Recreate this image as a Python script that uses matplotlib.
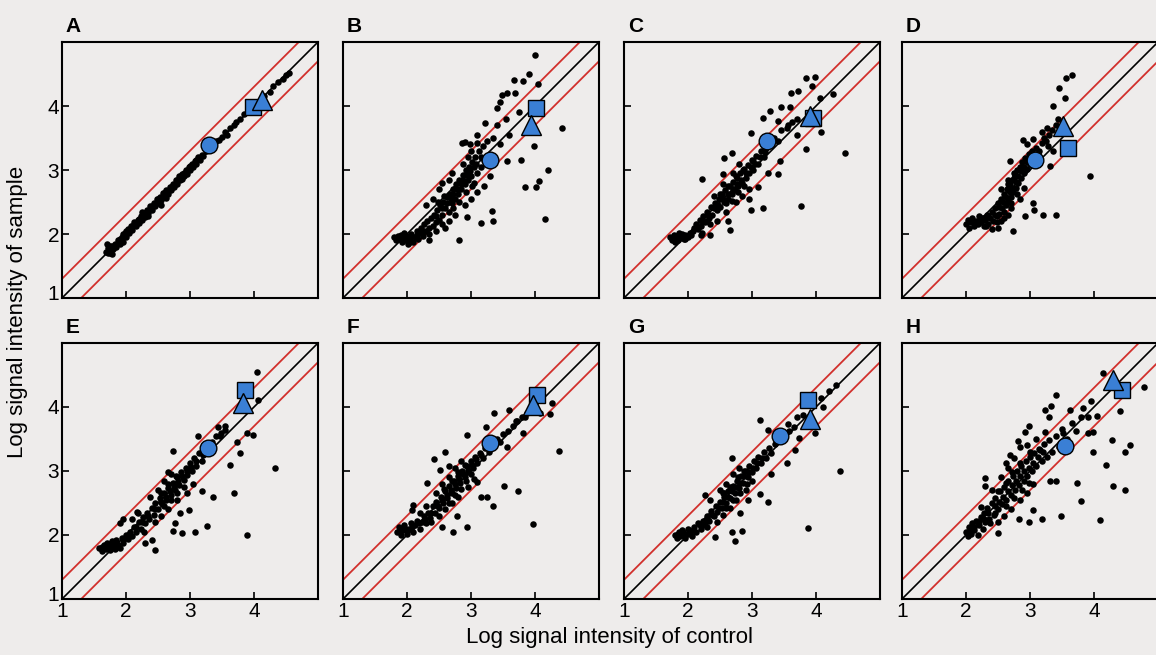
import matplotlib.pyplot as plt
import matplotlib.transforms as mtrans
import numpy as np

# values, panel by panel (log control, log sample)
pts_A = [(1.68,1.72),(1.72,1.78),(1.75,1.70),(1.78,1.82),(1.80,1.76),(1.83,1.85),(1.85,1.79),(1.88,1.90),(1.90,1.84),(1.93,1.95),(1.95,1.88),(1.98,2.02),(2.00,1.96),(2.03,2.08),(2.05,2.01),(2.08,2.12),(2.10,2.06),(2.13,2.18),(2.15,2.12),(2.18,2.22),(2.20,2.17),(2.23,2.28),(2.25,2.22),(2.28,2.33),(2.30,2.27),(2.33,2.38),(2.35,2.33),(2.38,2.44),(2.40,2.38),(2.43,2.48),(2.45,2.43),(2.48,2.55),(2.50,2.48),(2.53,2.58),(2.55,2.53),(2.58,2.64),(2.60,2.58),(2.63,2.68),(2.65,2.63),(2.68,2.74),(2.70,2.68),(2.73,2.78),(2.75,2.74),(2.78,2.84),(2.80,2.78),(2.83,2.90),(2.85,2.84),(2.88,2.94),(2.90,2.90),(2.93,3.00),(2.95,2.94),(2.98,3.04),(3.00,3.00),(3.03,3.10),(3.05,3.05),(3.08,3.14),(3.10,3.10),(3.13,3.20),(3.15,3.15),(3.18,3.24),(3.20,3.22),(3.25,3.30),(3.35,3.37),(3.40,3.45),(3.45,3.47),(3.50,3.52),(3.55,3.60),(3.58,3.55),(3.63,3.66),(3.68,3.70),(3.72,3.75),(3.78,3.80),(3.85,3.88),(4.15,4.15),(4.25,4.22),(4.30,4.32),(4.38,4.38),(4.45,4.42),(4.50,4.48),(4.55,4.52),(1.70,1.85),(1.78,1.68),(2.25,2.35),(2.55,2.45),
         (1.75,1.82),(1.82,1.80),(1.90,1.92),(2.00,2.04),(2.10,2.12),(2.20,2.24),(2.30,2.33),(2.40,2.44),(2.50,2.54),(2.60,2.64),(2.70,2.74),(2.80,2.84),(2.90,2.95),(3.00,3.06),(3.10,3.16),(2.35,2.28),(2.62,2.56),(2.88,2.86),(1.72,1.70),(1.95,2.00)]

pts_B = [(1.80,1.95),(1.83,1.90),(1.86,1.97),(1.88,1.92),(1.90,1.98),(1.92,1.88),(1.95,1.95),(1.97,1.90),(2.00,1.97),(2.02,1.85),(2.05,1.93),(2.07,2.00),(2.10,1.88),(2.12,1.96),(2.15,2.05),(2.17,1.92),(2.20,2.02),(2.22,2.10),(2.25,1.97),(2.27,2.15),(2.30,2.05),(2.32,2.20),(2.35,2.00),(2.37,2.25),(2.40,2.12),(2.42,2.30),(2.45,2.18),(2.47,2.38),(2.50,2.22),(2.52,2.45),(2.55,2.30),(2.57,2.50),(2.60,2.40),(2.62,2.58),(2.65,2.35),(2.67,2.62),(2.70,2.48),(2.72,2.70),(2.75,2.55),(2.77,2.78),(2.80,2.62),(2.82,2.85),(2.85,2.70),(2.87,2.92),(2.90,2.78),(2.92,3.00),(2.95,2.85),(2.97,3.05),(3.00,2.90),(3.02,3.12),(3.05,2.80),(3.07,3.20),(3.10,2.95),(3.12,3.30),(3.15,3.05),(3.18,3.38),(3.20,3.15),(3.25,3.45),
         (2.35,1.90),(2.45,2.05),(2.60,2.10),(2.75,2.30),(2.81,1.91),(2.94,2.26),(2.90,2.45),(3.00,2.55),(3.10,2.65),(3.15,2.17),(3.33,2.36),(3.34,2.20),(3.20,2.75),(3.30,2.90),(3.56,3.14),(3.78,3.16),(3.84,2.74),(4.02,2.73),(4.07,2.83),(4.21,3.00),(4.15,2.24),(3.98,3.37),(4.42,3.65),
         (2.30,2.45),(2.50,2.70),(2.70,2.95),(2.86,3.42),(2.90,3.44),(3.10,3.55),(3.22,3.73),(3.40,3.70),(3.35,3.50),(3.46,4.07),(3.40,3.97),(3.48,4.17),(3.56,4.20),(3.69,4.20),(3.67,4.41),(3.82,4.39),(3.90,4.50),(4.00,4.80),(4.05,4.34),(3.55,3.80),(3.60,3.55),(3.75,3.90),(3.45,3.40),(2.55,2.80),(2.65,2.85),(2.40,2.55),(3.00,3.30),(2.95,3.20),
         (1.85,1.93),(1.95,2.02),(2.05,1.88),(2.15,1.98),(2.25,2.05),(2.35,2.10),(2.45,2.28),(2.55,2.40),(2.62,2.48),(2.68,2.55),(2.72,2.62),(2.78,2.70),(2.84,2.78),(2.88,2.85),(2.93,2.92),(2.98,2.98),(3.04,3.05),(3.08,3.10),(2.58,2.60),(2.48,2.50),(2.72,2.40),(2.82,2.50),(2.92,2.65),(3.02,2.75),(2.65,2.20),(2.55,2.15),(2.88,3.10),(2.98,3.40),(3.10,3.42),(3.15,3.20)]

pts_C = [(1.72,1.95),(1.75,1.90),(1.78,1.98),(1.80,1.93),(1.83,1.97),(1.85,1.90),(1.88,1.95),(1.90,2.00),(1.93,1.92),(1.96,1.98),(2.00,1.95),(2.03,2.02),(2.08,2.05),(2.12,2.15),(2.15,2.08),(2.18,2.22),(2.20,2.12),(2.24,2.28),(2.27,2.18),(2.30,2.35),(2.33,2.25),(2.36,2.42),(2.38,2.30),(2.42,2.48),(2.45,2.38),(2.48,2.55),(2.50,2.42),(2.53,2.62),(2.56,2.50),(2.58,2.68),(2.62,2.55),(2.65,2.75),(2.68,2.62),(2.70,2.82),(2.73,2.68),(2.76,2.88),(2.78,2.75),(2.82,2.95),(2.85,2.80),(2.88,3.02),(2.90,2.88),(2.93,3.08),(2.96,2.95),(3.00,3.15),(3.02,3.00),(3.06,3.22),(3.10,3.10),(3.14,3.30),(3.18,3.20),(3.22,3.35),(3.30,3.40),(3.35,3.50),(3.40,3.45),(3.45,3.62),(3.55,3.65),(3.62,3.75),(3.70,3.80),(2.45,2.20),(2.60,2.35),(2.75,2.50),(2.85,2.60),(2.95,2.70),(2.40,2.60),(2.55,2.78),(2.70,2.95),(2.80,3.10),(2.35,2.15),(2.20,1.98),
         (3.85,4.44),(3.98,4.46),(3.93,4.31),(3.61,4.20),(3.72,4.23),(4.06,4.13),(4.27,4.18),(3.46,3.99),(3.17,3.81),(3.28,3.92),(3.59,3.99),(3.40,3.76),(3.56,3.71),(3.71,3.55),(3.84,3.33),(4.45,3.27),(4.08,3.60),(3.77,2.43),(3.17,2.40),(2.98,2.38),(2.96,2.54),(2.22,2.86),(2.68,3.27),(2.57,3.19),(2.55,2.93),(3.40,2.93),(3.25,2.95),(3.43,3.14),(2.65,2.07),(2.63,2.20),(2.22,2.02),(2.34,1.99),(3.09,2.74),(3.02,3.14),(2.99,3.58),
         (1.80,1.88),(1.86,2.02),(1.95,1.92),(2.05,1.98),(2.10,2.10),(2.22,2.20),(2.32,2.30),(2.40,2.40),(2.47,2.45),(2.55,2.55),(2.63,2.62),(2.70,2.70),(2.76,2.78),(2.83,2.85),(2.90,2.95),(2.98,3.05),(3.05,3.10),(2.60,2.48),(2.68,2.52),(2.78,2.65),(2.88,2.75),(2.50,2.62),(2.62,2.75),(2.75,2.90),(2.86,3.00),(3.12,3.20),(3.20,3.28),(2.30,2.20)]

pts_D = [(2.00,2.15),(2.03,2.22),(2.05,2.10),(2.08,2.18),(2.10,2.25),(2.12,2.12),(2.15,2.20),(2.18,2.15),(2.20,2.28),(2.23,2.18),(2.25,2.25),(2.28,2.12),(2.30,2.22),(2.33,2.30),(2.35,2.15),(2.38,2.25),(2.40,2.35),(2.42,2.20),(2.45,2.40),(2.48,2.28),(2.50,2.48),(2.52,2.32),(2.55,2.55),(2.57,2.40),(2.60,2.62),(2.62,2.45),(2.64,2.70),(2.66,2.52),(2.68,2.78),(2.70,2.58),(2.72,2.85),(2.74,2.65),(2.76,2.92),(2.78,2.72),(2.80,3.00),(2.82,2.80),(2.84,3.05),(2.86,2.88),(2.88,3.12),(2.90,2.95),(2.92,3.18),(2.95,3.02),(2.98,3.25),(3.00,3.10),(3.03,3.30),(3.06,3.20),(3.10,3.35),(3.14,3.30),(3.18,3.42),(3.22,3.50),(3.25,3.45),(3.30,3.55),(3.35,3.62),(3.40,3.70),(2.55,2.20),(2.60,2.25),(2.65,2.30),(2.50,2.10),(2.40,2.08),(2.70,2.40),(2.85,2.55),(2.75,2.95),(2.65,2.85),(2.55,2.70),(2.95,3.40),(3.05,3.48),
         (3.65,4.49),(3.57,4.44),(3.46,4.28),(3.54,4.13),(3.36,4.00),(3.44,3.79),(3.26,3.66),(3.18,3.60),(2.89,3.47),(2.68,3.14),(3.93,2.90),(3.41,2.30),(3.20,2.30),(3.07,2.38),(3.05,2.48),(2.92,2.28),(2.73,2.04),(3.28,3.37),(3.31,3.06),(3.36,3.29),
         (2.05,2.20),(2.12,2.18),(2.20,2.20),(2.28,2.25),(2.35,2.28),(2.45,2.30),(2.52,2.42),(2.58,2.50),(2.62,2.58),(2.68,2.65),(2.72,2.72),(2.78,2.82),(2.82,2.90),(2.86,2.98),(2.90,3.05),(2.96,3.12),(3.02,3.20),(2.60,2.35),(2.70,2.48),(2.80,2.62),(2.90,2.72),(2.65,2.78),(2.75,2.88),(2.48,2.18),(2.32,2.12),(3.12,3.25)]

pts_E = [(1.58,1.80),(1.62,1.75),(1.65,1.85),(1.68,1.78),(1.70,1.88),(1.73,1.82),(1.75,1.76),(1.78,1.90),(1.80,1.83),(1.83,1.78),(1.85,1.92),(1.88,1.85),(1.90,1.80),(1.93,1.95),(1.96,1.88),(2.00,2.00),(2.03,1.93),(2.06,2.05),(2.10,1.98),(2.13,2.12),(2.16,2.05),(2.20,2.20),(2.23,2.10),(2.26,2.28),(2.30,2.18),(2.33,2.35),(2.36,2.25),(2.40,2.42),(2.43,2.32),(2.46,2.50),(2.50,2.40),(2.53,2.58),(2.56,2.48),(2.60,2.66),(2.63,2.55),(2.66,2.74),(2.70,2.62),(2.73,2.82),(2.76,2.70),(2.80,2.90),(2.83,2.78),(2.86,2.98),(2.90,2.86),(2.93,3.05),(2.96,2.94),(3.00,3.12),(3.03,3.00),(3.06,3.20),(3.10,3.08),(3.14,3.28),(3.18,3.15),(3.22,3.35),(3.35,3.45),(3.40,3.55),(3.48,3.60),(3.55,3.70),(2.45,2.20),(2.55,2.30),(2.65,2.40),(2.80,2.55),(2.95,2.65),(3.05,2.80),(2.60,2.85),(2.70,2.95),(2.50,2.70),(2.38,2.60),(2.18,2.35),(2.10,2.25),
         (4.04,4.55),(4.07,4.11),(3.89,3.59),(3.99,3.56),(3.73,3.46),(3.78,3.28),(3.63,3.09),(3.69,2.66),(4.33,3.05),(3.36,2.60),(3.27,2.14),(3.89,2.00),(3.08,2.04),(2.87,2.03),(2.74,2.07),(2.77,2.18),(2.99,2.39),(2.84,2.34),(3.18,2.68),(2.74,3.31),(3.13,3.54),(3.44,3.69),(3.55,3.64),(3.47,3.54),(1.96,2.25),(2.17,2.36),(1.91,2.18),(2.45,1.77),(2.40,1.92),(2.30,1.87),(2.66,2.99),
         (1.62,1.82),(1.70,1.80),(1.78,1.84),(1.86,1.86),(1.95,1.92),(2.05,1.98),(2.15,2.12),(2.25,2.20),(2.35,2.30),(2.45,2.40),(2.55,2.52),(2.62,2.60),(2.68,2.68),(2.75,2.76),(2.82,2.84),(2.88,2.92),(2.95,3.00),(3.02,3.06),(3.10,3.15),(2.60,2.45),(2.70,2.55),(2.80,2.65),(2.90,2.75),(2.55,2.65),(2.65,2.80),(2.78,2.92),(3.20,3.25),(2.28,2.05)]

pts_F = [(1.85,2.05),(1.88,2.12),(1.90,2.00),(1.93,2.08),(1.96,2.15),(2.00,2.02),(2.03,2.10),(2.06,2.18),(2.10,2.05),(2.13,2.15),(2.16,2.22),(2.20,2.10),(2.23,2.20),(2.26,2.30),(2.30,2.18),(2.33,2.35),(2.36,2.26),(2.40,2.45),(2.43,2.35),(2.46,2.52),(2.50,2.42),(2.53,2.60),(2.56,2.50),(2.60,2.68),(2.63,2.58),(2.66,2.76),(2.70,2.66),(2.73,2.84),(2.76,2.74),(2.80,2.92),(2.83,2.82),(2.86,3.00),(2.90,2.90),(2.93,3.08),(2.96,2.98),(3.00,3.15),(3.03,3.05),(3.06,3.22),(3.10,3.12),(3.14,3.28),(3.18,3.20),(3.22,3.36),(3.28,3.30),(3.40,3.50),(3.45,3.45),(3.50,3.58),(3.58,3.62),(3.65,3.70),(3.72,3.78),(3.80,3.85),(3.88,3.90),(2.50,2.30),(2.60,2.40),(2.70,2.50),(2.80,2.60),(2.95,2.75),(3.05,2.88),(2.45,2.65),(2.55,2.80),(2.65,2.90),(2.75,3.05),(2.85,3.15),(2.20,2.35),(2.30,2.45),
         (4.38,3.31),(3.97,2.17),(3.74,2.68),(3.51,2.77),(3.35,2.45),(2.94,2.12),(2.72,2.04),(2.55,2.12),(2.78,2.29),(3.15,2.60),(3.25,2.60),(3.10,2.83),(2.31,2.81),(2.52,3.02),(2.42,3.18),(2.59,3.30),(2.66,3.08),(2.94,3.56),(3.24,3.69),(3.36,3.91),(3.60,3.95),(3.71,3.78),(3.85,3.84),(3.81,3.59),(3.56,3.38),(4.26,4.06),(4.23,3.89),(4.08,3.90),(2.10,2.47),(2.08,2.39),
         (1.90,2.08),(1.98,2.10),(2.08,2.12),(2.18,2.18),(2.28,2.25),(2.38,2.35),(2.48,2.45),(2.55,2.55),(2.62,2.62),(2.68,2.70),(2.75,2.80),(2.82,2.88),(2.88,2.95),(2.95,3.02),(3.02,3.10),(3.08,3.18),(3.15,3.25),(2.65,2.50),(2.75,2.62),(2.85,2.72),(2.92,2.85),(2.58,2.72),(2.70,2.85),(2.80,2.98),(2.90,3.10),(3.00,2.95),(2.38,2.20)]

pts_G = [(1.80,2.00),(1.83,1.95),(1.86,2.05),(1.88,1.98),(1.90,2.08),(1.93,2.02),(1.96,1.95),(2.00,2.10),(2.03,2.03),(2.06,1.98),(2.10,2.12),(2.13,2.05),(2.16,2.18),(2.20,2.10),(2.23,2.22),(2.26,2.15),(2.30,2.30),(2.33,2.22),(2.36,2.38),(2.40,2.30),(2.43,2.45),(2.46,2.36),(2.50,2.52),(2.53,2.42),(2.56,2.60),(2.60,2.50),(2.63,2.68),(2.66,2.58),(2.70,2.76),(2.73,2.66),(2.76,2.84),(2.80,2.74),(2.83,2.92),(2.86,2.82),(2.90,3.00),(2.93,2.90),(2.96,3.08),(3.00,2.98),(3.03,3.15),(3.06,3.05),(3.10,3.22),(3.14,3.12),(3.18,3.30),(3.22,3.20),(3.26,3.36),(3.30,3.28),(3.36,3.42),(3.50,3.55),(3.58,3.62),(3.65,3.68),(3.80,3.88),(4.20,4.25),(2.45,2.20),(2.55,2.32),(2.65,2.42),(2.75,2.55),(2.90,2.70),(3.00,2.85),(2.50,2.70),(2.60,2.80),(2.70,2.95),(2.80,3.05),(2.35,2.55),
         (4.37,3.00),(3.88,2.11),(2.73,1.91),(2.68,2.05),(2.85,2.06),(3.25,2.52),(3.12,2.64),(2.94,2.55),(2.82,2.34),(2.26,2.63),(2.68,3.20),(3.13,3.79),(3.25,3.64),(3.56,3.74),(3.71,3.85),(3.74,3.51),(3.67,3.33),(3.54,3.12),(3.30,2.96),(3.98,3.59),(4.11,4.00),(4.08,4.14),(4.32,4.34),(2.42,1.97),(2.31,2.23),(2.57,2.65),
         (1.85,2.02),(1.92,2.05),(2.00,2.02),(2.08,2.08),(2.18,2.15),(2.28,2.22),(2.38,2.32),(2.48,2.42),(2.55,2.52),(2.62,2.60),(2.68,2.68),(2.75,2.75),(2.82,2.82),(2.88,2.92),(2.95,2.98),(3.02,3.05),(3.08,3.12),(3.16,3.20),(2.60,2.42),(2.70,2.55),(2.82,2.65),(2.92,2.80),(2.55,2.65),(2.65,2.75),(2.78,2.90),(2.88,3.00),(2.30,2.12)]

pts_H = [(2.00,2.05),(2.03,1.98),(2.05,2.12),(2.08,2.02),(2.10,2.18),(2.13,2.08),(2.16,2.22),(2.18,2.00),(2.20,2.15),(2.23,2.28),(2.26,2.10),(2.28,2.35),(2.30,2.20),(2.33,2.42),(2.36,2.25),(2.40,2.50),(2.43,2.32),(2.46,2.58),(2.50,2.40),(2.53,2.68),(2.56,2.48),(2.60,2.75),(2.63,2.55),(2.66,2.85),(2.70,2.62),(2.73,2.92),(2.76,2.70),(2.80,3.00),(2.83,2.78),(2.86,3.08),(2.90,2.85),(2.93,3.15),(2.96,2.92),(3.00,3.22),(3.03,3.00),(3.06,3.28),(3.10,3.08),(3.14,3.35),(3.18,3.15),(3.22,3.42),(3.26,3.22),(3.30,3.48),(3.35,3.30),(3.40,3.55),(3.45,3.38),(3.50,3.65),(3.58,3.50),(3.65,3.75),(3.72,3.62),(3.80,3.85),(2.50,2.20),(2.60,2.30),(2.70,2.40),(2.85,2.55),(2.95,2.65),(2.40,2.70),(2.55,2.90),(2.65,3.05),(2.75,3.20),(2.95,3.40),(3.10,3.50),(3.05,2.80),
         (4.14,4.53),(4.78,4.32),(4.41,3.93),(4.56,3.41),(4.48,3.30),(4.28,3.49),(4.18,3.09),(4.30,2.77),(4.49,2.70),(4.09,2.23),(3.98,3.30),(3.98,3.61),(3.90,3.59),(3.74,2.81),(3.79,2.53),(3.49,2.29),(3.18,2.25),(2.99,2.21),(2.83,2.25),(3.05,2.39),(3.31,2.84),(3.40,2.84),(3.40,4.18),(3.33,4.02),(3.23,3.95),(3.29,3.84),(3.63,3.95),(3.83,3.98),(3.96,4.10),(4.05,3.86),(3.90,3.85),(2.99,3.70),(2.92,3.61),(2.82,3.47),(2.84,3.38),(2.68,3.25),(2.63,3.12),(2.29,2.89),(2.29,2.76),(2.24,2.44),(2.45,2.34),(2.50,2.03),(3.23,3.61),(3.15,3.33),(3.52,3.59),
         (2.05,2.05),(2.12,2.12),(2.20,2.22),(2.28,2.25),(2.35,2.35),(2.45,2.45),(2.52,2.52),(2.58,2.60),(2.65,2.68),(2.72,2.78),(2.78,2.85),(2.85,2.92),(2.90,3.00),(2.98,3.05),(3.05,3.12),(3.12,3.22),(3.20,3.30),(2.62,2.45),(2.75,2.58),(2.88,2.70),(2.98,2.82),(2.50,2.68),(2.62,2.82),(2.72,2.98),(2.85,3.12),(3.00,3.30),(2.38,2.18)]

panels = ['A', 'B', 'C', 'D', 'E', 'F', 'G', 'H']
points = [pts_A, pts_B, pts_C, pts_D, pts_E, pts_F, pts_G, pts_H]
circle_xy = [(3.30,3.39),(3.29,3.16),(3.24,3.45),(3.08,3.16),(3.28,3.36),(3.30,3.43),(3.43,3.54),(3.54,3.39)]
square_xy = [(3.99,3.99),(4.02,3.97),(3.95,3.81),(3.59,3.34),(3.86,4.27),(4.03,4.19),(3.88,4.11),(4.44,4.27)]
triangle_xy = [(4.13,4.09),(3.93,3.70),(3.90,3.84),(3.52,3.68),(3.83,4.06),(3.97,4.03),(3.90,3.82),(4.30,4.42)]
fold = 0.3
ticks = [1, 2, 3, 4]

bg = '#eeeceb'
blue = '#3a7fd5'
red = '#d2302c'
plt.rcParams['font.family'] = ['Liberation Sans', 'DejaVu Sans']

fig = plt.figure(figsize=(11.56, 6.55), dpi=100, facecolor=bg)
W, H = 1156, 655
lefts = [62, 343, 624, 902]
bottoms = [298, 599]
size = 256

line = np.array([0.5, 5.5])
for i, p in enumerate(panels):
    row, col = divmod(i, 4)
    ax = fig.add_axes([lefts[col] / W, 1 - bottoms[row] / H, size / W, size / H])
    ax.set_facecolor(bg)
    ax.plot(line, line, color='black', lw=1.2, zorder=1)
    ax.plot(line, line + fold, color=red, lw=1.3, zorder=1)
    ax.plot(line, line - fold, color=red, lw=1.3, zorder=1)
    xy = np.array(points[i])
    ax.scatter(xy[:, 0], xy[:, 1], s=22, color='black', lw=0, zorder=2)
    ax.plot(*circle_xy[i], 'o', ms=12, mfc=blue, mec='black', mew=1.0, zorder=3)
    ax.plot(*square_xy[i], 's', ms=12, mfc=blue, mec='black', mew=1.0, zorder=3)
    ax.plot(*triangle_xy[i], '^', ms=14, mfc=blue, mec='black', mew=1.0, zorder=3)
    ax.set_xlim(1, 5)
    ax.set_ylim(1, 5)
    ax.set_xticks(ticks)
    ax.set_yticks(ticks)
    ax.tick_params(direction='in', length=5, width=1.2, labelsize=15, pad=2)
    if col != 0:
        ax.set_yticklabels([])
    else:
        # lift the bottom "1" a little so it clears the x-axis "1"
        lab = ax.get_yticklabels()[0]
        lab.set_transform(lab.get_transform() +
                          mtrans.ScaledTranslation(0, 4 / 72, fig.dpi_scale_trans))
    if row == 0:
        ax.set_xticklabels([])
    for s in ax.spines.values():
        s.set_linewidth(1.5)
    ax.text(0.015, 1.025, p, transform=ax.transAxes, fontsize=15, fontweight='bold',
            va='bottom', ha='left')

fig.text(18 / W, 1 - 312 / H, 'Log signal intensity of sample', rotation=90,
         ha='center', va='center', fontsize=16)
fig.text(610 / W, 1 - 637 / H, 'Log signal intensity of control',
         ha='center', va='center', fontsize=16)

fig.savefig('out.png', dpi=100, facecolor=bg)
